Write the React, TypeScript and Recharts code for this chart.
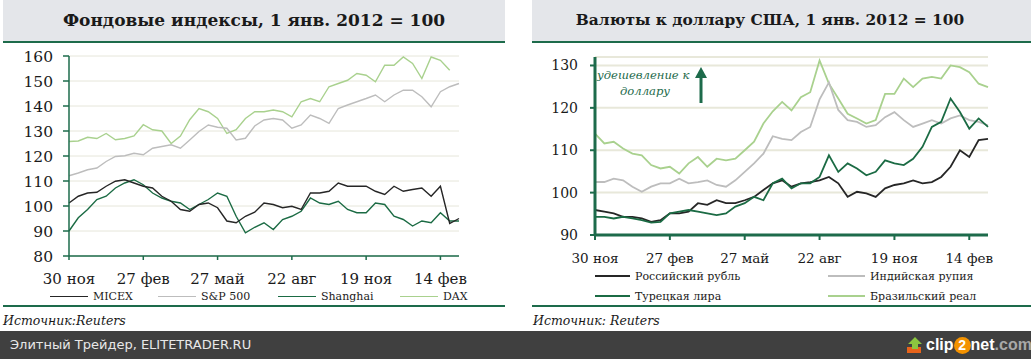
import React from 'react';
import { LineChart, Line, XAxis, YAxis, CartesianGrid } from 'recharts';

// ---------- shared x index (≈8 points between labelled ticks) ----------
const idx = [0,1,2,3,4,5,6,7,8,9,10,11,12,13,14,15,16,17,18,19,20,21,22,23,24,25,26,27,28,29,30,31,32,33,34,35,36,37,38,39,40,41,42];
const tickPos = [0, 8, 16, 24, 32, 40];
const tickLabels = ['30 ноя', '27 фев', '27 май', '22 авг', '19 ноя', '14 фев'];

// ---------- left chart: stock indices ----------
const micex = [101.2,103.9,105.2,105.5,107.9,109.9,110.5,109.2,107.9,107.2,103.9,101.9,98.6,97.9,100.6,101.2,99.3,94,93.3,95.9,97.5,
  101.2,100.6,99.3,99.9,98.6,105.2,105.2,105.9,109.2,107.9,107.9,107.9,105.9,104.6,107.9,105.9,106.6,107.2,103.9,107.9,93,95];
const sp500 = [112.1,113.2,114.5,115.2,117.8,119.8,120.1,121.1,120.5,123.1,123.8,124.5,123.1,126.4,129.8,132.4,131.5,131.1,126.4,127.1,132,
  134.4,135,134.4,131.1,132.4,136.4,135,133.1,139,140.4,141.7,143,144.4,141.7,144.4,146.3,146.3,143.7,139.7,145.7,147.7,149];
const shanghai = [90,95.3,98.6,102.6,103.9,107.2,109.2,110.5,108.5,105.2,103.2,101.9,101.2,98.6,100.6,102.6,105.2,103.9,95.9,89.3,91.5,
  93.3,90.6,94.6,95.9,97.9,103.2,101.2,100.6,101.9,98.6,97.3,97.3,101.2,100.6,95.9,94.6,92,94,93.3,97.3,94,94];
const dax = [125.8,126,127.5,127,129,126.5,127,128,132.5,130.5,130,125,128,134.5,139,137.7,135,129,130.5,135,137.7,
  137.7,138.4,137.7,135.7,141.7,143,141.7,147.7,149,150.3,153,152.3,149.7,156.3,156.3,159.6,157,151,159.6,158.3,154.3,null];
const leftYTicks = [80, 90, 100, 110, 120, 130, 140, 150, 160];

// ---------- right chart: currencies vs USD ----------
const rub = [95.9,95.5,95.1,94.3,94.3,93.9,93.1,93.5,95.1,95.1,95.5,97.5,97.1,98.2,97.5,97.5,98.2,99,100.6,102.2,
  102.9,101.4,102.2,102.5,102.9,103.7,102.2,99,100.2,99.8,99,101,101.8,102.2,102.9,102.2,102.5,103.7,106.1,110,108.4,112.4,112.7];
const inr = [102.5,102.5,103.3,102.9,101.4,100.2,101.4,102.2,102.2,103.3,102.2,102.5,102.9,101.8,101.4,102.9,104.9,106.9,109.2,113.3,
  112.7,112.4,114.3,115.5,122,126,119.5,117.1,116.7,115.5,115.9,117.8,119,117.1,115.5,116.3,117.1,116.3,117.5,118.2,117.1,116.7,115.9];
const tryl = [94.3,94.3,93.9,94.3,93.9,93.5,92.9,93.1,95.1,95.5,95.9,95.5,95.1,94.7,95.1,96.7,97.5,99,98.2,102.2,
  103.3,101,102.2,102.2,103.7,108.8,104.9,106.9,105.7,104.1,104.9,107.6,106.9,106.5,108,110.8,115.5,116.7,122.2,119,115.1,117.5,115.5];
const brl = [113.9,111.6,112,110.4,109.2,108.8,106.5,105.7,106.1,104.5,106.9,108.4,106.1,108,107.6,108,110,112,116.3,119.2,
  121.4,119.4,122.5,123.7,131.2,125.7,122.2,118.6,117.5,116.3,117.1,123.3,123.3,126.9,124.9,126.9,127.3,126.9,130,129.6,128.4,125.7,124.9];
const rightYTicks = [90, 100, 110, 120, 130];

const leftData = idx.map((i, k) => ({ i, micex: micex[k], sp500: sp500[k], shanghai: shanghai[k], dax: dax[k] }));
const rightData = idx.map((i, k) => ({ i, rub: rub[k], inr: inr[k], tryl: tryl[k], brl: brl[k] }));

const GREEN = '#1d6b4b';
const BAND = '#e4e6ea';
const C_BLACK = '#262626';
const C_GRAY = '#bdbdbd';
const C_DKGREEN = '#1b6b44';
const C_LTGREEN = '#a9d18e';
const SERIF = '"DejaVu Serif", serif';

const fmtTick = (v: number) => tickLabels[tickPos.indexOf(v)] ?? '';

function LegendItem({ x, y, color, label, thick, lineW }: { x: number; y: number; color: string; label: string; thick: number; lineW: number }) {
  return (
    <div style={{ position: 'absolute', left: x, top: y - 8, height: 16, display: 'flex', alignItems: 'center', whiteSpace: 'nowrap' }}>
      <span style={{ display: 'inline-block', width: lineW, height: 0, borderTop: `${thick}px solid ${color}`, marginRight: 5 }} />
      <span style={{ fontFamily: SERIF, fontSize: 11, color: '#1a1a1a' }}>{label}</span>
    </div>
  );
}

export default function App() {
  return (
    <div style={{ position: 'absolute', left: 0, top: 0, width: 1031, height: 359, background: '#fff', overflow: 'hidden', fontFamily: SERIF }}>
      {/* title bands */}
      <div style={{ position: 'absolute', left: 3, top: 0, width: 502, height: 41, background: BAND }} />
      <div style={{ position: 'absolute', left: 532, top: 0, width: 499, height: 41, background: BAND }} />
      <div style={{ position: 'absolute', left: 3, top: 41, width: 502, height: 2, background: GREEN }} />
      <div style={{ position: 'absolute', left: 532, top: 41, width: 499, height: 2, background: GREEN }} />
      <div style={{ position: 'absolute', left: 3, top: 0, width: 502, height: 41, lineHeight: '41px', textAlign: 'center', fontWeight: 'bold', fontSize: 17, color: '#1a1a1a', whiteSpace: 'nowrap' }}>
        Фондовые индексы, 1 янв. 2012 = 100
      </div>
      <div style={{ position: 'absolute', left: 532, top: 0, width: 476, height: 41, lineHeight: '41px', textAlign: 'center', fontWeight: 'bold', fontSize: 15.4, color: '#1a1a1a', whiteSpace: 'nowrap' }}>
        Валюты к доллару США, 1 янв. 2012 = 100
      </div>

      {/* left chart */}
      <div style={{ position: 'absolute', left: 0, top: 40 }}>
        <LineChart width={505} height={260} data={leftData} margin={{ top: 16, right: 46, left: 0, bottom: 14 }}>
          <CartesianGrid horizontal vertical={false} stroke="#e6e6da" strokeWidth={1} />
          <XAxis dataKey="i" type="number" domain={[0, 42]} ticks={tickPos} tickFormatter={fmtTick} height={30}
            axisLine={{ stroke: GREEN, strokeWidth: 1.5 }} tickLine={{ stroke: GREEN, strokeWidth: 1.5 }} tickSize={4} tickMargin={13}
            tick={{ fontFamily: SERIF, fontSize: 15, fill: '#1a1a1a' }} interval={0} />
          <YAxis type="number" domain={[80, 160]} ticks={leftYTicks} width={69}
            axisLine={{ stroke: GREEN, strokeWidth: 1.5 }} tickLine={{ stroke: GREEN, strokeWidth: 1.5 }} tickSize={6} tickMargin={10}
            tick={{ fontFamily: SERIF, fontSize: 15.5, fill: '#1a1a1a' }} interval={0} />
          <Line dataKey="dax" stroke={C_LTGREEN} strokeWidth={1.4} dot={false} isAnimationActive={false} />
          <Line dataKey="sp500" stroke={C_GRAY} strokeWidth={1.4} dot={false} isAnimationActive={false} />
          <Line dataKey="shanghai" stroke={C_DKGREEN} strokeWidth={1.4} dot={false} isAnimationActive={false} />
          <Line dataKey="micex" stroke={C_BLACK} strokeWidth={1.4} dot={false} isAnimationActive={false} />
        </LineChart>
      </div>

      {/* right chart */}
      <div style={{ position: 'absolute', left: 532, top: 40 }}>
        <LineChart width={499} height={240} data={rightData} margin={{ top: 17, right: 43, left: 0, bottom: 15 }}>
          <CartesianGrid horizontal vertical={false} stroke="#e8e8da" strokeWidth={2} />
          <XAxis dataKey="i" type="number" domain={[0, 42]} ticks={tickPos} tickFormatter={fmtTick} height={30}
            axisLine={{ stroke: GREEN, strokeWidth: 3 }} tickLine={{ stroke: GREEN, strokeWidth: 2 }} tickSize={5} tickMargin={13}
            tick={{ fontFamily: SERIF, fontSize: 13.5, fill: '#1a1a1a' }} interval={0} />
          <YAxis type="number" domain={[90, 132]} ticks={rightYTicks} width={63}
            axisLine={{ stroke: GREEN, strokeWidth: 3 }} tickLine={{ stroke: GREEN, strokeWidth: 2 }} tickSize={5} tickMargin={12}
            tick={{ fontFamily: SERIF, fontSize: 14, fill: '#1a1a1a' }} interval={0} />
          <Line dataKey="brl" stroke={C_LTGREEN} strokeWidth={1.8} dot={false} isAnimationActive={false} />
          <Line dataKey="inr" stroke={C_GRAY} strokeWidth={1.8} dot={false} isAnimationActive={false} />
          <Line dataKey="rub" stroke={C_BLACK} strokeWidth={1.8} dot={false} isAnimationActive={false} />
          <Line dataKey="tryl" stroke={C_DKGREEN} strokeWidth={1.8} dot={false} isAnimationActive={false} />
        </LineChart>
      </div>

      {/* annotation */}
      <div style={{ position: 'absolute', left: 597, top: 67, fontStyle: 'italic', fontSize: 11.6, color: GREEN, lineHeight: '16px', whiteSpace: 'nowrap' }}>удешевление к</div>
      <div style={{ position: 'absolute', left: 605, width: 80, top: 83, textAlign: 'center', fontStyle: 'italic', fontSize: 11.6, color: GREEN, lineHeight: '16px' }}>доллару</div>
      <svg style={{ position: 'absolute', left: 694, top: 64 }} width={16} height={42}>
        <polygon points="7,3 1,14 13,14" fill={GREEN} />
        <line x1={7} y1={13} x2={7} y2={39} stroke={GREEN} strokeWidth={3} />
      </svg>

      {/* legends */}
      <LegendItem x={50} y={296} color={C_BLACK} label="MICEX" thick={1} lineW={38} />
      <LegendItem x={158} y={296} color={C_GRAY} label="S&P 500" thick={1} lineW={38} />
      <LegendItem x={278} y={296} color={C_DKGREEN} label="Shanghai" thick={1} lineW={38} />
      <LegendItem x={400} y={296} color={C_LTGREEN} label="DAX" thick={1} lineW={38} />

      <LegendItem x={595} y={276} color={C_BLACK} label="Российский рубль" thick={2} lineW={35} />
      <LegendItem x={828} y={276} color={C_GRAY} label="Индийская рупия" thick={2} lineW={37} />
      <LegendItem x={595} y={296} color={C_DKGREEN} label="Турецкая лира" thick={2} lineW={35} />
      <LegendItem x={828} y={296} color={C_LTGREEN} label="Бразильский реал" thick={2} lineW={37} />

      {/* bottom rules */}
      <div style={{ position: 'absolute', left: 3, top: 305, width: 502, height: 2, background: GREEN }} />
      <div style={{ position: 'absolute', left: 532, top: 305, width: 499, height: 2, background: GREEN }} />

      {/* sources */}
      <div style={{ position: 'absolute', left: 3, top: 313, fontStyle: 'italic', fontSize: 12.5, lineHeight: '16px', color: '#1a1a1a' }}>Источник:Reuters</div>
      <div style={{ position: 'absolute', left: 533, top: 313, fontStyle: 'italic', fontSize: 12.5, lineHeight: '16px', color: '#1a1a1a' }}>Источник: Reuters</div>

      {/* footer */}
      <div style={{ position: 'absolute', left: 0, top: 331, width: 1031, height: 28, background: '#404040' }} />
      <div style={{ position: 'absolute', left: 10, top: 331, height: 28, lineHeight: '28px', fontFamily: '"DejaVu Sans", sans-serif', fontSize: 13, color: '#e8e8e8', whiteSpace: 'nowrap' }}>
        Элитный Трейдер, ELITETRADER.RU
      </div>
      <div style={{ position: 'absolute', left: 906, top: 331, height: 28, display: 'flex', alignItems: 'center', fontFamily: '"Liberation Sans", Arial, sans-serif', fontWeight: 'bold', fontSize: 16, whiteSpace: 'nowrap' }}>
        <svg width={19} height={18} style={{ marginRight: 1 }}>
          <rect x={1} y={11} width={14} height={6} fill="#e8641b" />
          <polygon points="9,1 2,8 6,8 6,13 12,13 12,8 16,8" fill="#8cc63f" />
        </svg>
        <span style={{ color: '#ffffff' }}>clip</span>
        <span style={{ display: 'inline-block', width: 17, height: 17, borderRadius: 9, background: '#f39200', color: '#fff', textAlign: 'center', lineHeight: '17px', fontSize: 14 }}>2</span>
        <span style={{ color: '#ffffff' }}>net</span>
        <span style={{ color: '#a8a8a8' }}>.com</span>
      </div>
    </div>
  );
}
